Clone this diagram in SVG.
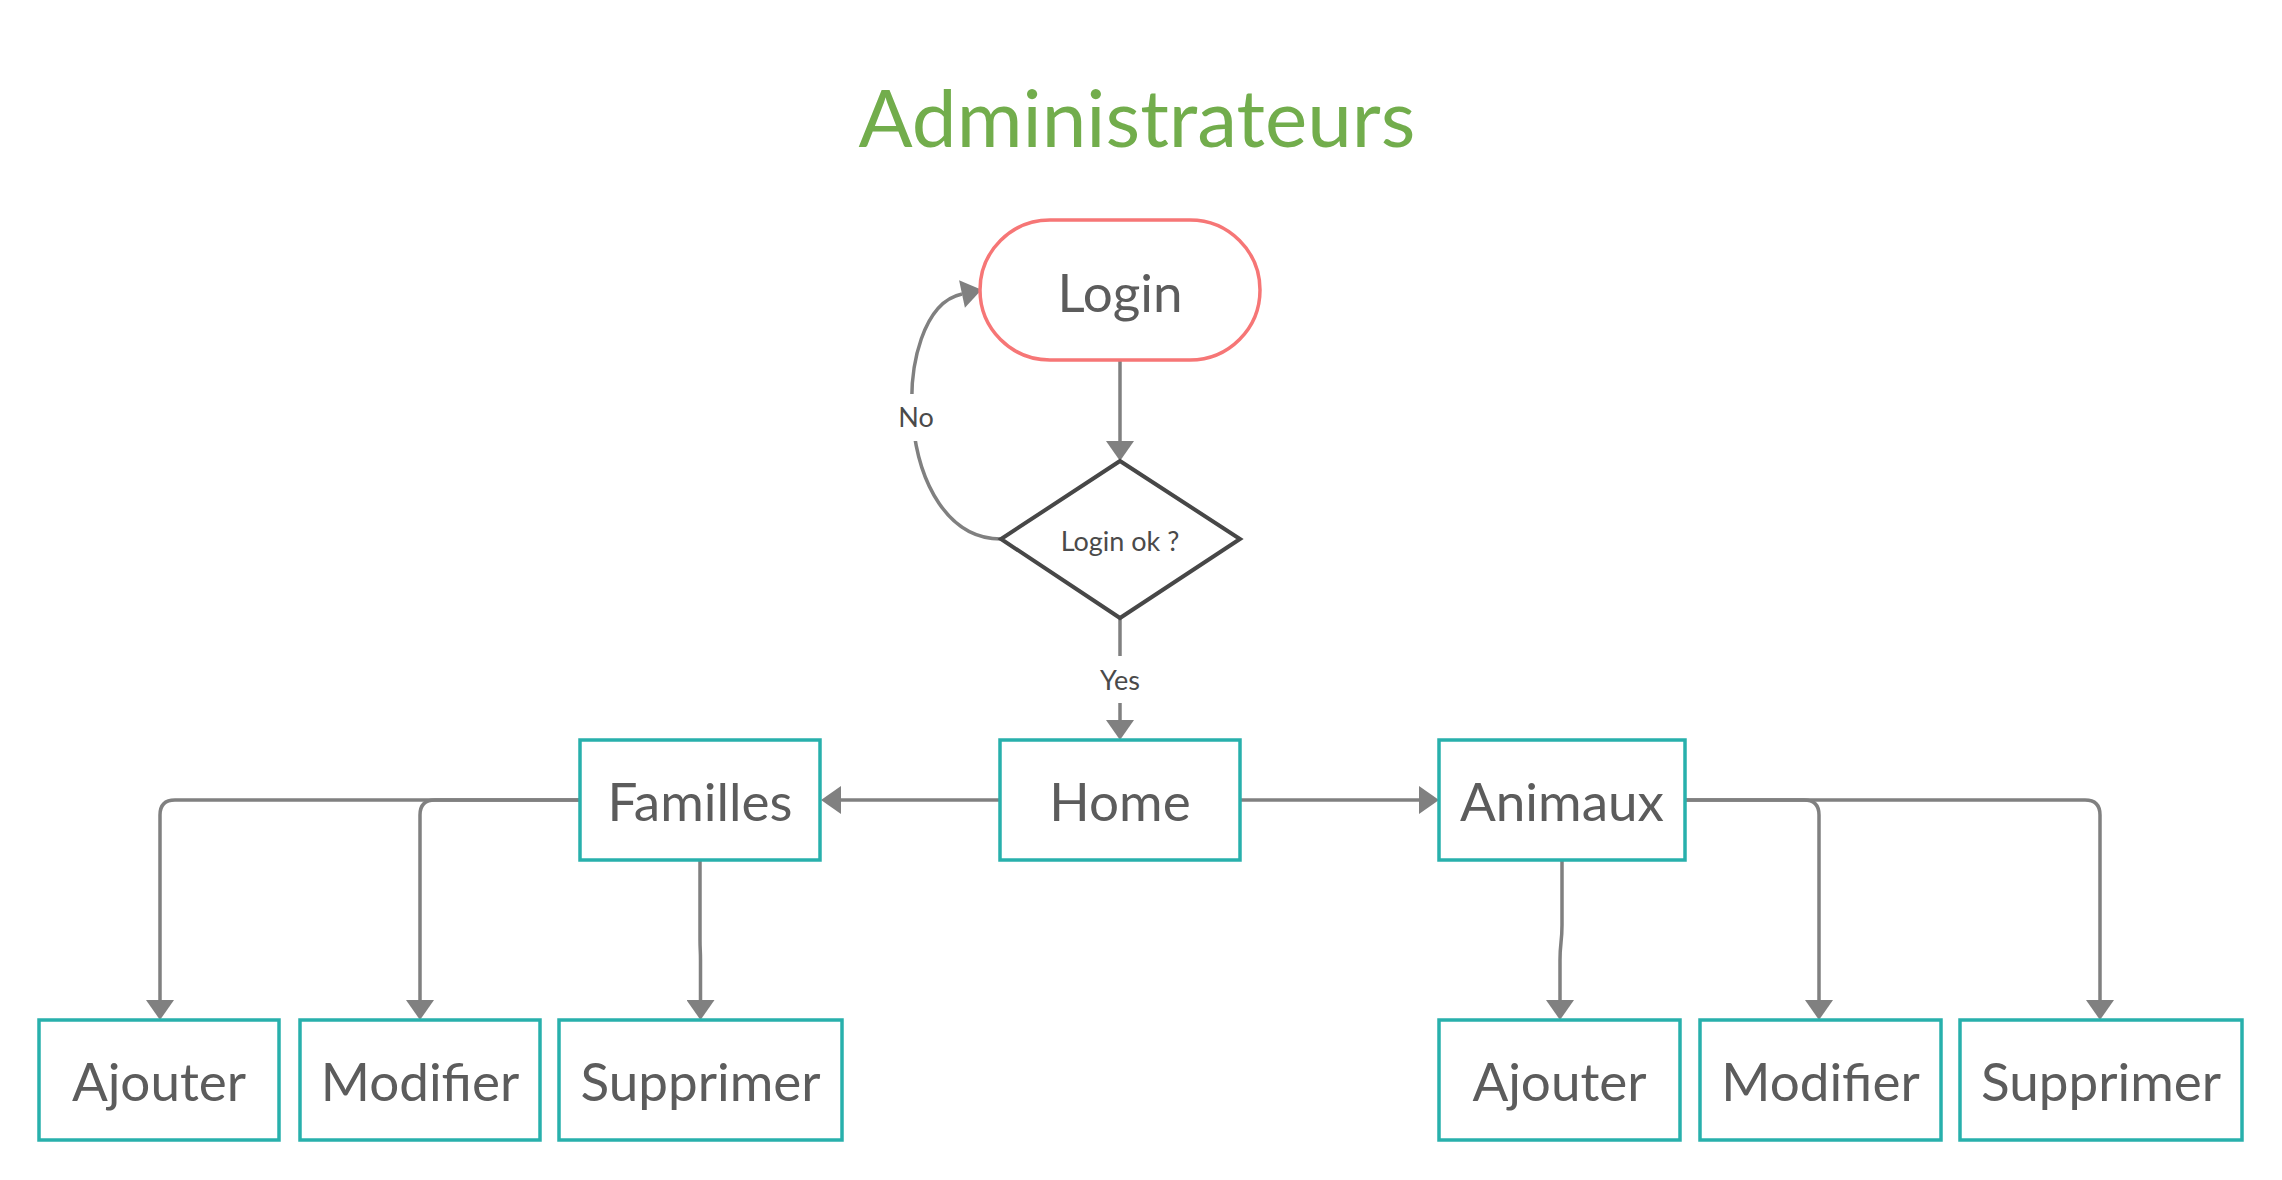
<svg xmlns="http://www.w3.org/2000/svg" width="2282" height="1180" viewBox="0 0 2282 1180">
<style>
  .box { fill: #ffffff; stroke: #28b0ac; stroke-width: 3.5; }
  .lbl { font-family: Lato, "Noto Sans", sans-serif; font-size: 53px; fill: #5c5c5c; text-anchor: middle; }
  .small { font-family: Lato, "Noto Sans", sans-serif; font-size: 27px; fill: #4a4a4a; text-anchor: middle; }
  .conn { fill: none; stroke: #808080; stroke-width: 3.5; }
  .gap { fill: #ffffff; }
</style>
<defs>
  <marker id="arr" markerUnits="userSpaceOnUse" markerWidth="21" markerHeight="28" viewBox="0 0 20 28" refX="0" refY="14" orient="auto">
    <path d="M0,0 L20,14 L0,28 Z" fill="#808080"/>
  </marker>
</defs>
<rect x="0" y="0" width="2282" height="1180" fill="#ffffff"/>
<text id="title" x="1137" y="147" font-family="Lato, 'Noto Sans', sans-serif" font-size="80" fill="#72ad4c" text-anchor="middle">Administrateurs</text>

<g id="connectors">
  <path class="conn" d="M1120,360 L1120,441" marker-end="url(#arr)"/>
  <path class="conn" d="M1001,539 C893,539 887,310 962,294" marker-end="url(#arr)"/>
  <rect class="gap" x="896" y="394" width="42" height="47"/>
  <text class="small" x="916" y="427">No</text>
  <path class="conn" d="M1120,618 L1120,720" marker-end="url(#arr)"/>
  <rect class="gap" x="1094" y="656" width="52" height="47"/>
  <text class="small" x="1120" y="690">Yes</text>
  <path class="conn" d="M1000,800 L841,800" marker-end="url(#arr)"/>
  <path class="conn" d="M1240,800 L1419,800" marker-end="url(#arr)"/>
  <path class="conn" d="M580,800 L175,800 Q160,800 160,815 L160,1000" marker-end="url(#arr)"/>
  <path class="conn" d="M580,800 L435,800 Q420,800 420,815 L420,1000" marker-end="url(#arr)"/>
  <path class="conn" d="M700,860 L700,940 C700,950 700.5,950 700.5,960 L700.5,1000" marker-end="url(#arr)"/>
  <path class="conn" d="M1562,860 L1562,925 C1562,942 1560,943 1560,960 L1560,1000" marker-end="url(#arr)"/>
  <path class="conn" d="M1685,800 L1804,800 Q1819,800 1819,815 L1819,1000" marker-end="url(#arr)"/>
  <path class="conn" d="M1685,800 L2085,800 Q2100,800 2100,815 L2100,1000" marker-end="url(#arr)"/>
</g>

<g id="login">
  <rect x="980" y="220" width="280" height="140" rx="70" ry="70" fill="#ffffff" stroke="#f67676" stroke-width="3.5"/>
  <text class="lbl" x="1120" y="312">Login</text>
</g>
<g id="decision">
  <polygon points="1120,461 1240,539 1120,618 1001,539" fill="#ffffff" stroke="#474747" stroke-width="4" stroke-linejoin="miter"/>
  <text class="small" x="1120" y="551">Login ok ?</text>
</g>
<g id="home">
  <rect class="box" x="1000" y="740" width="240" height="120"/>
  <text class="lbl" x="1120" y="821">Home</text>
</g>
<g id="familles">
  <rect class="box" x="580" y="740" width="240" height="120"/>
  <text class="lbl" x="700" y="821">Familles</text>
</g>
<g id="animaux">
  <rect class="box" x="1439" y="740" width="246" height="120"/>
  <text class="lbl" x="1562" y="821">Animaux</text>
</g>
<g id="f-ajouter">
  <rect class="box" x="39" y="1020" width="240" height="120"/>
  <text class="lbl" x="159" y="1101">Ajouter</text>
</g>
<g id="f-modifier">
  <rect class="box" x="300" y="1020" width="240" height="120"/>
  <text class="lbl" x="420" y="1101">Modifier</text>
</g>
<g id="f-supprimer">
  <rect class="box" x="559" y="1020" width="283" height="120"/>
  <text class="lbl" x="700.5" y="1101">Supprimer</text>
</g>
<g id="a-ajouter">
  <rect class="box" x="1439" y="1020" width="241" height="120"/>
  <text class="lbl" x="1559.5" y="1101">Ajouter</text>
</g>
<g id="a-modifier">
  <rect class="box" x="1700" y="1020" width="241" height="120"/>
  <text class="lbl" x="1820.5" y="1101">Modifier</text>
</g>
<g id="a-supprimer">
  <rect class="box" x="1960" y="1020" width="282" height="120"/>
  <text class="lbl" x="2101" y="1101">Supprimer</text>
</g>
</svg>
